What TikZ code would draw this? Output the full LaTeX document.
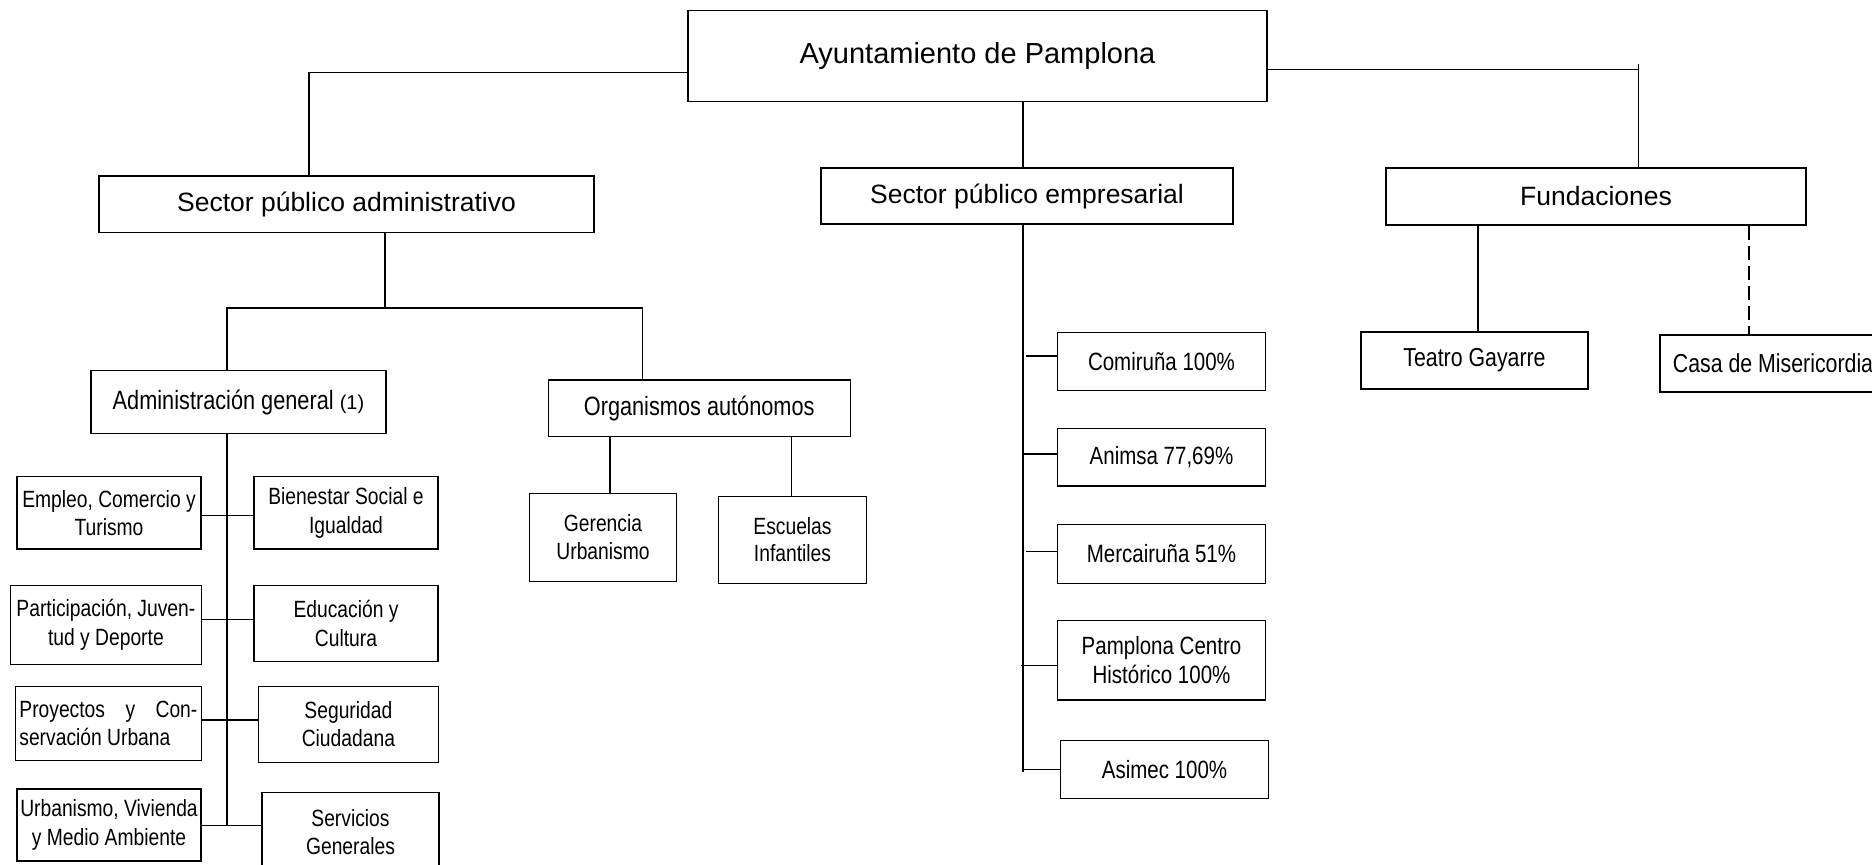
\documentclass[tikz,border=0pt]{standalone}
\usepackage{fontspec}
\setmainfont{Liberation Sans}
\newfontfamily\narrowfont[FakeStretch=0.82]{Liberation Sans}
\tikzset{
  box/.style={draw, line width=1.1pt, inner sep=1pt, align=center},
  conn/.style={line width=1.05pt},
  big/.style={font=\fontsize{29}{34}\selectfont},
  lvl/.style={font=\fontsize{26.5}{31}\selectfont},
  nlvl/.style={font=\narrowfont\fontsize{26.5}{31}\selectfont},
  subt/.style={font=\narrowfont\fontsize{23.5}{28.3}\selectfont},
  orgsub/.style={font=\narrowfont\fontsize{23.5}{27.5}\selectfont},
  empt/.style={font=\narrowfont\fontsize{25}{29.3}\selectfont},
  fndt/.style={font=\narrowfont\fontsize{26}{31}\selectfont},
}
\begin{document}
\begin{tikzpicture}[x=1pt,y=-1pt]
\clip (0,0) rectangle (1872,865);
% top level
\node[box,big,minimum width=579pt,minimum height=91pt] (ayto) at (977.5,56.2) {Ayuntamiento de Pamplona};
\node[box,lvl,minimum width=495pt,minimum height=56.5pt] (spa) at (346.5,204.25) {Sector público administrativo};
\node[box,lvl,minimum width=412pt,minimum height=56pt] (spe) at (1027,196) {Sector público empresarial};
\node[box,lvl,minimum width=420pt,minimum height=57pt] (fund) at (1596,196.5) {Fundaciones};
% administrativo
\node[box,nlvl,minimum width=295pt,minimum height=62.6pt] (admin) at (238.5,402) {Administración general {\rmfamily\fontsize{20}{24}\selectfont(1)}};
\node[box,nlvl,minimum width=301.7pt,minimum height=56.7pt] (org) at (699.2,408.3) {Organismos autónomos};
\node[box,subt,minimum width=184pt,minimum height=72.3pt] (empleo) at (109,512.8) {Empleo, Comercio y\\Turismo};
\node[box,subt,minimum width=184pt,minimum height=72.3pt] (bien) at (346,512.8) {Bienestar Social e\\Igualdad};
\node[box,subt,minimum width=190.3pt,minimum height=78.3pt] (part) at (105.9,624.9) {Participación, Juven-\\tud y Deporte};
\node[box,subt,minimum width=184pt,minimum height=75.3pt] (educ) at (346,623.4) {Educación y\\Cultura};
\node[box,subt,align=left,minimum width=185.3pt,minimum height=73.3pt] (proy) at (108.4,723.4) {\makebox[178pt][s]{Proyectos y Con-}\\servación Urbana};
\node[box,subt,minimum width=179.3pt,minimum height=75.3pt] (seg) at (348.4,724.4) {Seguridad\\Ciudadana};
\node[box,subt,minimum width=184pt,minimum height=72pt] (urb) at (109,825) {Urbanismo, Vivienda\\y Medio Ambiente};
\node[box,subt,minimum width=177pt,minimum height=79.7pt] (serv) at (350.5,832) {Servicios\\Generales};
\node[box,orgsub,minimum width=147.4pt,minimum height=87.7pt] (ger) at (603,537.2) {Gerencia\\Urbanismo};
\node[box,orgsub,minimum width=148.4pt,minimum height=87.3pt] (esc) at (792.5,539.7) {Escuelas\\Infantiles};
% empresarial
\node[box,empt,minimum width=208.4pt,minimum height=57.7pt] (comi) at (1161.5,361.2) {Comiruña 100\%};
\node[box,empt,minimum width=208.4pt,minimum height=57.3pt] (anim) at (1161.5,457.3) {Animsa 77,69\%};
\node[box,empt,minimum width=208.4pt,minimum height=59pt] (merc) at (1161.5,553.8) {Mercairuña 51\%};
\node[box,empt,minimum width=208.4pt,minimum height=79.3pt] (pcen) at (1161.5,660.3) {Pamplona Centro\\Histórico 100\%};
\node[box,empt,minimum width=208.4pt,minimum height=57.6pt] (asim) at (1164.5,769.5) {Asimec 100\%};
% fundaciones
\node[box,fndt,minimum width=227pt,minimum height=57pt] (teatro) at (1474.5,360.5) {\raisebox{-3pt}{Teatro Gayarre}};
\node[box,fndt,minimum width=226pt,minimum height=57pt] (casa) at (1773,363.5) {Casa de Misericordia};

% connectors from Ayuntamiento
\coordinate (lj) at (309,72.3);
\draw[conn] ([yshift=-16.1pt]ayto.west) -- (lj) -- (lj |- spa.north);
\coordinate (rj) at (1638.5,69.3);
\coordinate (rt) at (1638.5,64);
\draw[conn] ([yshift=-13.1pt]ayto.east) -- (rj);
\draw[conn] (rt) -- (rt |- fund.north);
\coordinate (xe) at (1023,0);
\draw[conn] (xe |- ayto.south) -- (xe |- spe.north);

% administrativo
\coordinate (sj) at (385,308);
\coordinate (al) at (227,308);
\coordinate (ar) at (642.5,308);
\draw[conn] (sj |- spa.south) -- (sj);
\draw[conn] (al |- admin.north) -- (al) -- (ar) -- (ar |- org.north);
\coordinate (at) at (227,825.7);
\draw[conn] (at |- admin.south) -- (at);
\coordinate (a1) at (227,515.3);
\coordinate (a2) at (227,619.3);
\coordinate (a3) at (227,720);
\coordinate (a4) at (227,825.7);
\draw[conn] (a1 -| empleo.east) -- (a1 -| bien.west);
\draw[conn] (a2 -| part.east) -- (a2 -| educ.west);
\draw[conn] (a3 -| proy.east) -- (a3 -| seg.west);
\draw[conn] (a4 -| urb.east) -- (a4 -| serv.west);
\coordinate (xg) at (610,0);
\coordinate (xs) at (791.7,0);
\draw[conn] (xg |- org.south) -- (xg |- ger.north);
\draw[conn] (xs |- org.south) -- (xs |- esc.north);

% empresarial
\coordinate (eb) at (1023,771.7);
\draw[conn] (xe |- spe.south) -- (eb);
\coordinate (e1) at (1025.7,356);
\coordinate (e2) at (1023,454);
\coordinate (e3) at (1025.7,551.7);
\coordinate (e4) at (1020.7,665.7);
\coordinate (e5) at (1023,769.3);
\draw[conn] (e1) -- (e1 -| comi.west);
\draw[conn] (e2) -- (e2 -| anim.west);
\draw[conn] (e3) -- (e3 -| merc.west);
\draw[conn] (e4) -- (e4 -| pcen.west);
\draw[conn] (e5) -- (e5 -| asim.west);

% fundaciones
\coordinate (ft) at (1478,0);
\coordinate (fc) at (1749,0);
\draw[conn] (ft |- fund.south) -- (ft |- teatro.north);
\draw[conn,dash pattern=on 14pt off 6pt] (fc |- fund.south) -- (fc |- casa.north);
\end{tikzpicture}
\end{document}
